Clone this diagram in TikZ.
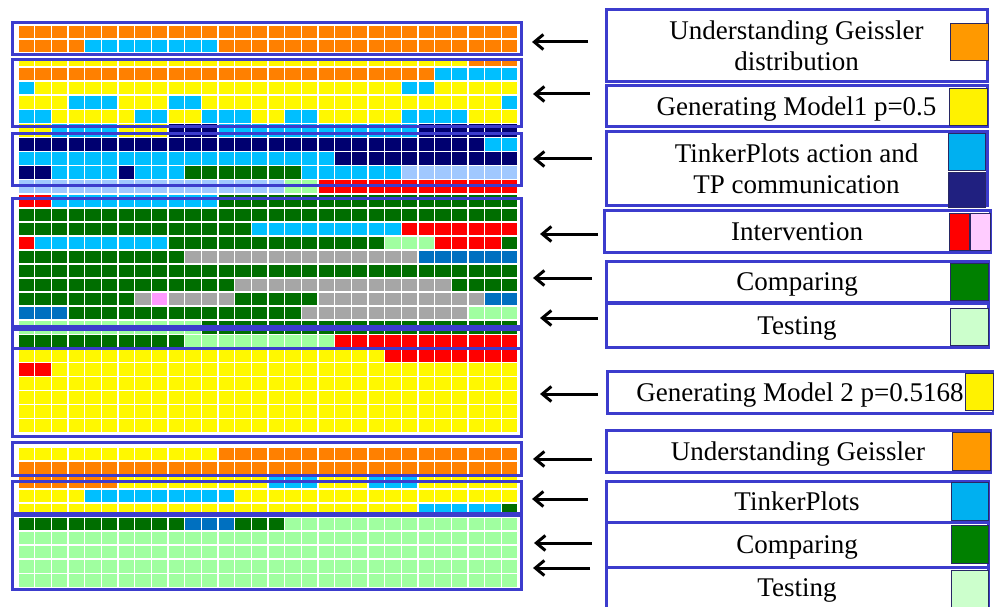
\documentclass[tikz,border=0pt]{standalone}
\usepackage{fontspec}
\setmainfont{Liberation Serif}
\usetikzlibrary{arrows.meta}

% grid colours
\definecolor{geiss}{RGB}{255,128,0}
\definecolor{model}{RGB}{255,248,0}
\definecolor{tpact}{RGB}{0,191,255}
\definecolor{tpcomm}{RGB}{0,0,112}
\definecolor{compare}{RGB}{0,110,0}
\definecolor{paleblue}{RGB}{160,200,255}
\definecolor{interv}{RGB}{255,0,0}
\definecolor{intpink}{RGB}{255,153,255}
\definecolor{cellgrey}{RGB}{166,166,166}
\definecolor{midblue}{RGB}{0,112,192}
\definecolor{testing}{RGB}{160,255,160}
% legend colours
\definecolor{framecol}{RGB}{60,60,205}
\definecolor{swline}{RGB}{40,40,100}
\definecolor{swgeiss}{RGB}{255,153,0}
\definecolor{swtp}{RGB}{0,176,240}
\definecolor{swcomm}{RGB}{32,32,128}
\definecolor{swpink}{RGB}{255,204,255}
\definecolor{swcomp}{RGB}{0,128,0}
\definecolor{swtest}{RGB}{204,255,204}

% one row of cells: #1 row number, #2 list of first/last/colour
\newcommand{\cellrow}[2]{%
  \foreach \a/\b/\c in {#2}{%
    \foreach \i in {\a,...,\b}{%
      \filldraw[cell, fill=\c] ({18+16.667*\i},{25+14.06*#1}) rectangle ++(16.667,14.06);
    }}}

\begin{document}
\begin{tikzpicture}[x=1pt, y=-1pt,
    cell/.style={draw=white, line width=1.6pt},
    grpframe/.style={draw=framecol, line width=3pt},
    lbox/.style={draw=framecol, line width=3pt, fill=white, inner sep=0pt,
      align=center, text depth=0pt, minimum width=381pt,
      font=\fontsize{27}{31}\selectfont},
    swatch/.style={draw=swline, line width=0.8pt},
    arr/.style={line width=3pt, -{Straight Barb[length=9pt, width=15pt]}}]
    \useasboundingbox (0,0) rectangle (994,607);

    % Session 1
    \cellrow{0}{0/29/geiss}
    \cellrow{1}{0/3/geiss, 4/11/tpact, 12/29/geiss}
    \cellrow{2}{0/26/model, 27/29/geiss}
    \cellrow{3}{0/24/geiss, 25/29/tpact}
    \cellrow{4}{0/0/tpact, 1/22/model, 23/24/tpact, 25/29/model}
    \cellrow{5}{0/2/model, 3/5/tpact, 6/8/model, 9/10/tpact, 11/28/model, 29/29/tpact}
    \cellrow{6}{0/1/tpact, 2/6/model, 7/8/tpact, 9/10/model, 11/13/tpact, 14/15/model, 16/17/tpact, 18/22/model, 23/26/tpact, 27/29/model}
    \cellrow{7}{0/1/model, 2/5/tpact, 6/8/model, 9/11/tpcomm, 12/23/tpact, 24/29/tpcomm}
    \cellrow{8}{0/27/tpcomm, 28/29/tpact}
    \cellrow{9}{0/18/tpact, 19/29/tpcomm}
    \cellrow{10}{0/1/tpcomm, 2/5/tpact, 6/6/tpcomm, 7/9/tpact, 10/16/compare, 17/22/tpact, 23/29/paleblue}
    \cellrow{11}{0/15/paleblue, 16/17/testing, 18/29/interv}
    \cellrow{12}{0/1/interv, 2/11/tpact, 12/29/compare}
    \cellrow{13}{0/29/compare}
    \cellrow{14}{0/13/compare, 14/22/tpact, 23/29/interv}
    \cellrow{15}{0/0/interv, 1/8/tpact, 9/21/compare, 22/24/testing, 25/28/interv, 29/29/compare}
    \cellrow{16}{0/9/compare, 10/23/cellgrey, 24/29/midblue}
    \cellrow{17}{0/29/compare}
    \cellrow{18}{0/12/compare, 13/25/cellgrey, 26/29/compare}
    \cellrow{19}{0/6/compare, 7/7/cellgrey, 8/8/intpink, 9/12/cellgrey, 13/17/compare, 18/27/cellgrey, 28/29/midblue}
    \cellrow{20}{0/2/midblue, 3/16/compare, 17/26/cellgrey, 27/29/testing}
    \cellrow{21}{0/10/testing, 11/29/compare}
    \cellrow{22}{0/9/compare, 10/18/testing, 19/29/interv}
    \cellrow{23}{0/21/model, 22/29/interv}
    \cellrow{24}{0/1/interv, 2/29/model}
    \foreach \r in {25,...,28}{\cellrow{\r}{0/29/model}}

    % Session 2
    \cellrow{30}{0/11/model, 12/29/geiss}
    \cellrow{31}{0/29/geiss}
    \cellrow{32}{0/5/geiss, 6/14/model, 15/17/tpact, 18/20/model, 21/23/tpact, 24/29/model}
    \cellrow{33}{0/3/model, 4/12/tpact, 13/29/model}
    \cellrow{34}{0/23/model, 24/28/tpact, 29/29/compare}
    \cellrow{35}{0/9/compare, 10/12/midblue, 13/15/compare, 16/29/testing}
    \foreach \r in {36,...,39}{\cellrow{\r}{0/29/testing}}

    % gap between the first two frames
    \fill[white] (8,54.5) rectangle (526,59.5);

    % frames round the phases
    \draw[grpframe] (12.5,22.5) rectangle (521,54.5);
    \draw[grpframe] (12.5,60) rectangle (521,126.5);
    \draw[grpframe] (12.5,134) rectangle (521,186);
    \draw[grpframe] (12.5,199) rectangle (521,326.8);
    \draw[grpframe] (12.5,329.3) rectangle (521,348.3);
    \draw[grpframe] (12.5,348.3) rectangle (521,436.7);
    \draw[grpframe] (12.5,442.3) rectangle (521,475.5);
    \draw[grpframe] (12.5,481.7) rectangle (521,513.8);
    \draw[grpframe] (12.5,515.5) rectangle (521,589);

    % legend
    \node[lbox, minimum height=72pt] (ugd) at (796.5,46) {Understanding Geissler\\distribution};
    \node[lbox, minimum height=41pt] (gm1) at (796.5,106.5) {Generating Model1 p=0.5};
    \node[lbox, minimum height=74pt] (tpa) at (796.5,169) {TinkerPlots action and\\TP communication};
    \node[lbox, minimum width=386pt, minimum height=41pt] (intv) at (797,231.5) {Intervention};
    \node[lbox, minimum width=382pt, minimum height=41pt] (cmp1) at (797,281.5) {Comparing};
    \node[lbox, minimum width=382pt, minimum height=44.5pt] (tst1) at (797,325.7) {Testing};
    \node[lbox, minimum width=386pt, minimum height=42pt] (gm2) at (800,392) {Generating Model 2 p=0.5168};
    \node[lbox, minimum width=384pt, minimum height=42pt] (ug) at (798,451) {Understanding Geissler};
    \node[lbox, minimum width=382pt, minimum height=41pt] (tp) at (797,501.5) {TinkerPlots};
    \node[lbox, minimum width=382pt, minimum height=45pt] (cmp2) at (797,544.5) {Comparing};
    \node[lbox, minimum width=382pt, minimum height=42pt] (tst2) at (797,588) {Testing};

    % colour keys
    \filldraw[swatch, fill=swgeiss] (950,23) rectangle (988,60);
    \filldraw[swatch, fill=yellow] (949,88) rectangle (987,125);
    \filldraw[swatch, fill=swtp] (948,133) rectangle (985,170);
    \filldraw[swatch, fill=swcomm] (948,172) rectangle (985,207);
    \filldraw[swatch, fill=interv] (949,213) rectangle (969,250);
    \filldraw[swatch, fill=swpink] (970,213) rectangle (990,250);
    \filldraw[swatch, fill=swcomp] (950,263) rectangle (988,300);
    \filldraw[swatch, fill=swtest] (950,308) rectangle (988,345);
    \filldraw[swatch, fill=yellow] (965,373) rectangle (993,410);
    \filldraw[swatch, fill=swgeiss] (952,432) rectangle (990,470);
    \filldraw[swatch, fill=swtp] (951,482) rectangle (988,520);
    \filldraw[swatch, fill=swcomp] (951,525) rectangle (988,563);
    \filldraw[swatch, fill=swtest] (951,570) rectangle (988,612);

    % arrows to the frames
    \foreach \n/\xs/\xt/\y in {1/588/532/42, 2/590/533/94, 3/592/533/159, 4/598/540/234,
        5/592/533/278, 6/598/540/318, 7/598/540/394, 8/592/533/459, 9/588/532/499,
        10/592/534/543, 11/590/533/568}{
        \coordinate (s\n) at (\xs,\y);
        \coordinate (t\n) at (\xt,\y);
        \draw[arr] (s\n) -- (t\n);
    }
\end{tikzpicture}
\end{document}
